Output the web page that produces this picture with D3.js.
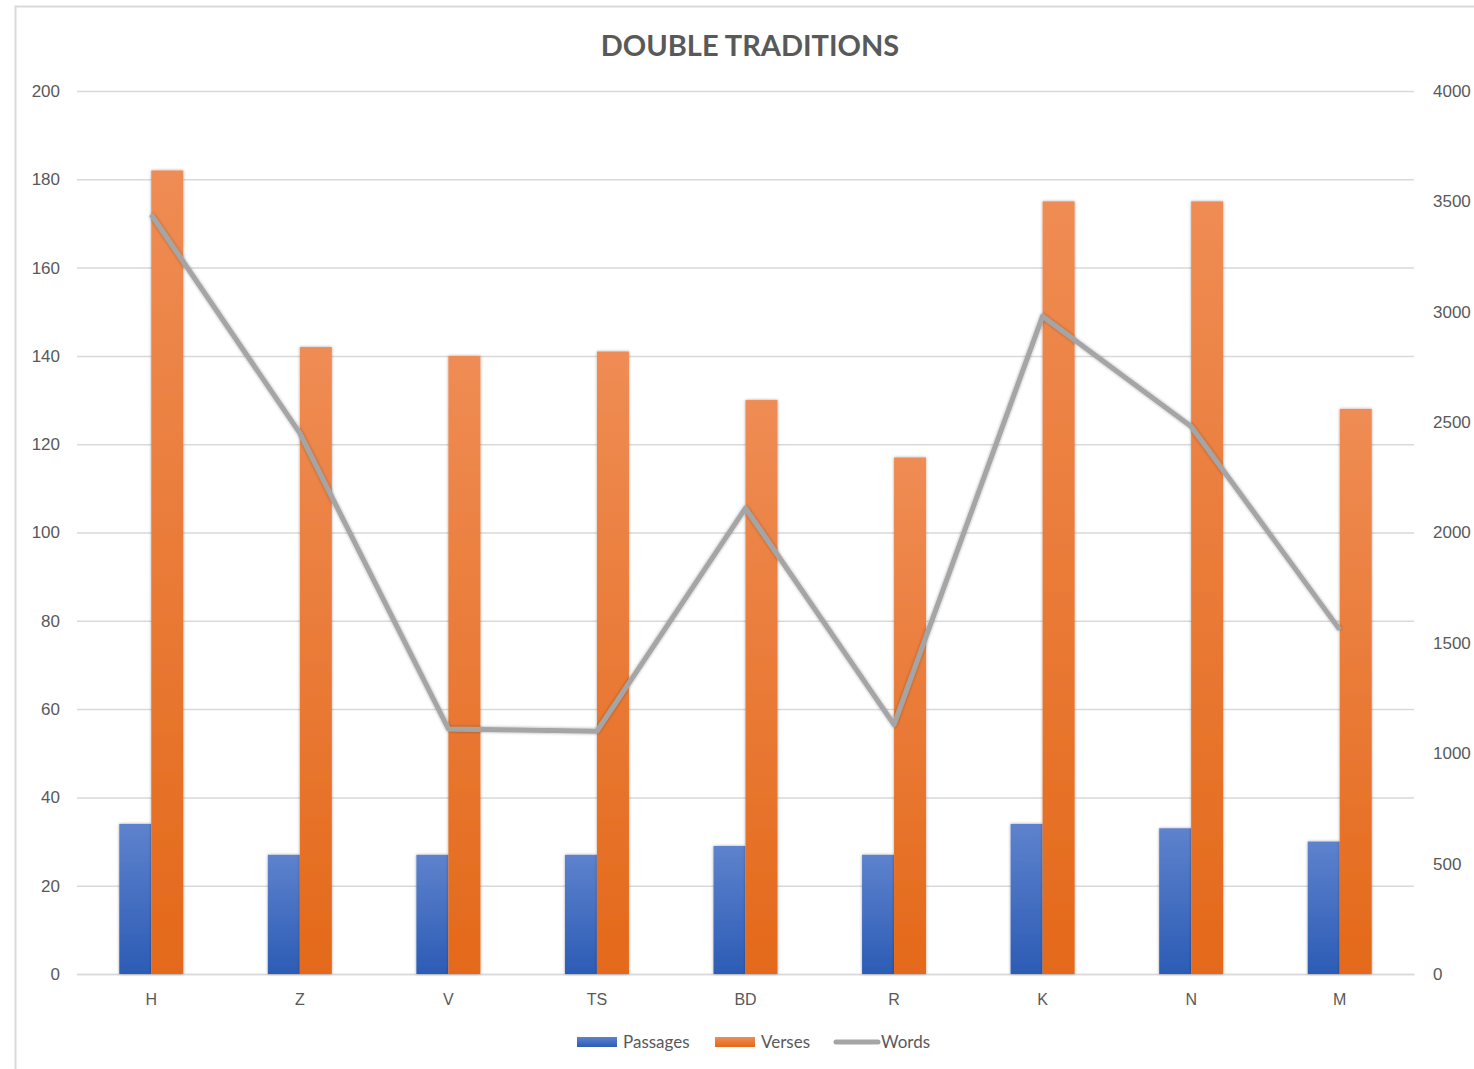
<!DOCTYPE html>
<html>
<head>
<meta charset="utf-8">
<script src="https://cdn.jsdelivr.net/npm/d3@7"></script>
<style>
  body { margin: 0; background: #fff; }
  svg { display: block; font-family: Lato, "Open Sans", sans-serif; }
</style>
</head>
<body>
<script>
var categories = ["H", "Z", "V", "TS", "BD", "R", "K", "N", "M"];
var passages = [34, 27, 27, 27, 29, 27, 34, 33, 30];
var verses = [182, 142, 140, 141, 130, 117, 175, 175, 128];
var words = [3440, 2450, 1110, 1100, 2110, 1130, 2980, 2480, 1560];
var leftTicks = [0, 20, 40, 60, 80, 100, 120, 140, 160, 180, 200];
var rightTicks = [0, 500, 1000, 1500, 2000, 2500, 3000, 3500, 4000];

var W = 1474, H = 1069;
var margin = {top: 91, right: 60, bottom: 95, left: 77},
    width = 1414 - margin.left,
    height = 974 - margin.top;

var svg = d3.select('body').append('svg')
  .attr('width', W)
  .attr('height', H);

var defs = svg.append('defs');
function grad(id, top, bottom) {
  var g = defs.append('linearGradient').attr('id', id)
    .attr('x1', 0).attr('y1', 0).attr('x2', 0).attr('y2', 1);
  g.append('stop').attr('offset', '0%').attr('stop-color', top);
  g.append('stop').attr('offset', '100%').attr('stop-color', bottom);
}
grad('blueGrad', '#5e82cd', '#2c5cb5');
grad('orangeGrad', '#ef8c54', '#e4691a');
var shadow = defs.append('filter').attr('id', 'shadow')
  .attr('x', '-20%').attr('y', '-20%').attr('width', '140%').attr('height', '140%');
shadow.append('feDropShadow').attr('dx', 0).attr('dy', 0)
  .attr('stdDeviation', 1.5).attr('flood-color', '#000').attr('flood-opacity', 0.35);

// outer chart frame
svg.append('path')
  .attr('d', 'M15.5,' + H + ' V6.5 H' + W)
  .attr('fill', 'none')
  .attr('stroke', '#d9d9d9')
  .attr('stroke-width', 2);

var g = svg.append('g')
  .attr('transform', 'translate(' + margin.left + ',' + margin.top + ')');

var x0 = d3.scaleBand().domain(categories).range([0, width]);
var x1 = d3.scaleBand().domain(['p', 'v']).range([x0.bandwidth() / 2 - 32, x0.bandwidth() / 2 + 32]);
var yLeft = d3.scaleLinear().domain([0, 200]).range([height, 0]);
var yRight = d3.scaleLinear().domain([0, 4000]).range([height, 0]);

// gridlines
g.append('g')
  .call(d3.axisLeft(yLeft).tickValues(leftTicks).tickSize(-width).tickFormat(''))
  .call(function(s) {
    s.select('.domain').remove();
    s.selectAll('line').attr('stroke', '#d9d9d9').attr('stroke-width', 1.5);
  });

// left axis labels
g.append('g')
  .call(d3.axisLeft(yLeft).tickValues(leftTicks).tickSize(0).tickPadding(17))
  .call(function(s) {
    s.select('.domain').remove();
    s.selectAll('text').attr('fill', '#595959').style('font-size', '17px');
  });

// right axis labels
g.append('g')
  .attr('transform', 'translate(' + width + ',0)')
  .call(d3.axisRight(yRight).tickValues(rightTicks).tickSize(0).tickPadding(19).tickFormat(d3.format('d')))
  .call(function(s) {
    s.select('.domain').remove();
    s.selectAll('text').attr('fill', '#595959').style('font-size', '17px');
  });

// bottom axis
g.append('g')
  .attr('transform', 'translate(0,' + height + ')')
  .call(d3.axisBottom(x0).tickSize(0).tickPadding(20))
  .call(function(s) {
    s.select('.domain').attr('stroke', '#d9d9d9').attr('stroke-width', 1.5);
    s.selectAll('text').attr('fill', '#595959').style('font-size', '16px');
  });

// bars
var groups = g.selectAll('.cat')
  .data(categories)
  .enter().append('g')
  .attr('class', 'cat')
  .attr('transform', function(d) { return 'translate(' + x0(d) + ',0)'; });

groups.append('rect')
  .attr('x', x1('p'))
  .attr('width', x1.bandwidth())
  .attr('y', function(d, i) { return yLeft(passages[i]); })
  .attr('height', function(d, i) { return height - yLeft(passages[i]); })
  .attr('fill', 'url(#blueGrad)')
  .attr('filter', 'url(#shadow)');

groups.append('rect')
  .attr('x', x1('v'))
  .attr('width', x1.bandwidth())
  .attr('y', function(d, i) { return yLeft(verses[i]); })
  .attr('height', function(d, i) { return height - yLeft(verses[i]); })
  .attr('fill', 'url(#orangeGrad)')
  .attr('filter', 'url(#shadow)');

// words line
var line = d3.line()
  .x(function(d, i) { return x0(categories[i]) + x0.bandwidth() / 2; })
  .y(function(d) { return yRight(d); });

g.append('path')
  .datum(words)
  .attr('d', line)
  .attr('fill', 'none')
  .attr('stroke', '#a5a5a5')
  .attr('stroke-width', 5)
  .attr('stroke-linejoin', 'round')
  .attr('filter', 'url(#shadow)');

// title
svg.append('text')
  .attr('x', 750)
  .attr('y', 56)
  .attr('text-anchor', 'middle')
  .attr('fill', '#595959')
  .style('font-size', '29px')
  .style('font-weight', 'bold')
  .text('DOUBLE TRADITIONS');

// legend
var legend = svg.append('g').attr('transform', 'translate(0,1042)');
legend.append('rect').attr('x', 577).attr('y', -5).attr('width', 40).attr('height', 10)
  .attr('fill', 'url(#blueGrad)');
legend.append('text').attr('x', 623).attr('y', 6).attr('fill', '#595959')
  .style('font-size', '17px').text('Passages');
legend.append('rect').attr('x', 715).attr('y', -5).attr('width', 40).attr('height', 10)
  .attr('fill', 'url(#orangeGrad)');
legend.append('text').attr('x', 761).attr('y', 6).attr('fill', '#595959')
  .style('font-size', '17px').text('Verses');
legend.append('line').attr('x1', 836).attr('x2', 878).attr('y1', 0).attr('y2', 0)
  .attr('stroke', '#a5a5a5').attr('stroke-width', 5).attr('stroke-linecap', 'round');
legend.append('text').attr('x', 881).attr('y', 6).attr('fill', '#595959')
  .style('font-size', '17px').text('Words');
</script>
</body>
</html>
